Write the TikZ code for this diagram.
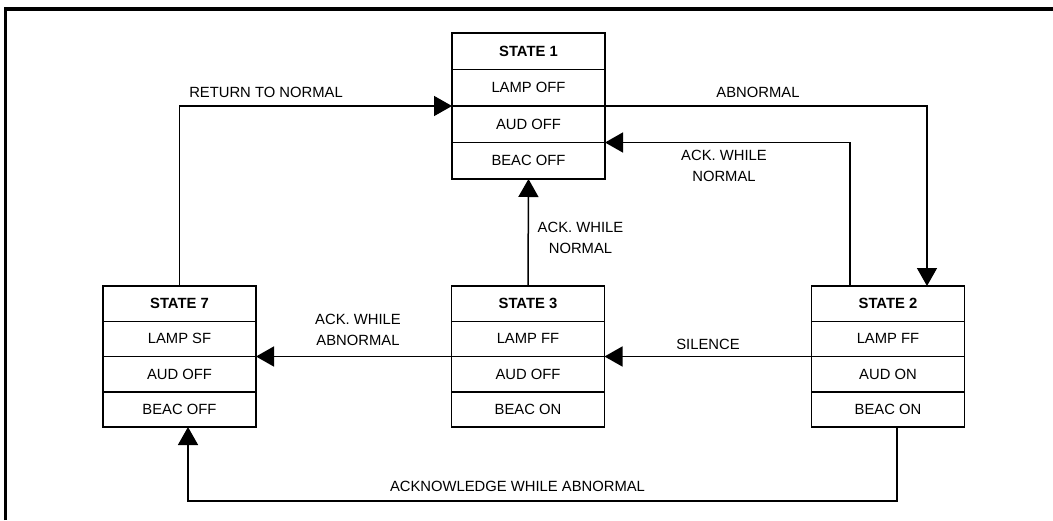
\documentclass[tikz,border=0pt]{standalone}
\usepackage{fontspec}
\setmainfont{Liberation Sans}
\usetikzlibrary{arrows.meta,positioning}
\tikzstyle{arrow} = [line width=1.5pt,-{Triangle[length=18pt,width=20pt]}]
\tikzstyle{cell} = [draw, line width=1.5pt, outer sep=0pt, inner sep=0pt, minimum width=153pt, minimum height=\rowh]
\tikzstyle{lbl} = [inner sep=0pt, align=center]

\begin{document}
\begin{tikzpicture}[x=1pt,y=-1pt,font=\fontsize{14.8}{20.5}\selectfont]
                        \useasboundingbox (0,0) rectangle (1053,520);
                        \draw[line width=3.5pt] (5.5,520) -- (5.5,9) -- (1053,9);
                        % state 1
                        \def \rowh {36.5pt}
                        \node[cell, anchor=north] (s1t) at (528.5,33) {\bfseries STATE 1};
                        \node[cell, below=0pt of s1t] (s1a) {LAMP OFF};
                        \node[cell, below=0pt of s1a] (s1b) {AUD OFF};
                        \node[cell, below=0pt of s1b] (s1c) {BEAC OFF};
                        % states 7, 3, 2
                        \def \rowh {35.25pt}
                        \node[cell, anchor=north] (s7t) at (179.5,286) {\bfseries STATE 7};
                        \node[cell, below=0pt of s7t] (s7a) {LAMP SF};
                        \node[cell, below=0pt of s7a] (s7b) {AUD OFF};
                        \node[cell, below=0pt of s7b] (s7c) {BEAC OFF};
                        \node[cell, anchor=north] (s3t) at (528,286) {\bfseries STATE 3};
                        \node[cell, below=0pt of s3t] (s3a) {LAMP FF};
                        \node[cell, below=0pt of s3a] (s3b) {AUD OFF};
                        \node[cell, below=0pt of s3b] (s3c) {BEAC ON};
                        \node[cell, anchor=north] (s2t) at (888,286) {\bfseries STATE 2};
                        \node[cell, below=0pt of s2t] (s2a) {LAMP FF};
                        \node[cell, below=0pt of s2a] (s2b) {AUD ON};
                        \node[cell, below=0pt of s2b] (s2c) {BEAC ON};
                        % transitions
                        \draw[arrow] (s7t.north) |- (s1b.north west);
                        \draw[arrow] (s1b.north east) -| ([xshift=39pt]s2t.north);
                        \draw[arrow] ([xshift=-38pt]s2t.north) |- (s1c.north east);
                        \draw[arrow] (s3t.north) -- (s1c.south);
                        \draw[arrow] (s2b.north west) -- (s3b.north east);
                        \draw[arrow] (s3b.north west) -- (s7b.north east);
                        \draw[arrow] ([xshift=9pt]s2c.south) -- ++(0,74) -| ([xshift=8.5pt]s7c.south);
                        % labels
                        \node[lbl] (lret) at (266,92.7) {RETURN TO NORMAL};
                        \node[lbl] (labn) at (758,92.7) {ABNORMAL};
                        \node[lbl] (lackn1) at (724,165.9) {ACK. WHILE\\NORMAL};
                        \node[lbl] (lackn3) at (580.5,237.9) {ACK. WHILE\\NORMAL};
                        \node[lbl] (lsil) at (708,344.5) {SILENCE};
                        \node[lbl] (lacka) at (358,330) {ACK. WHILE\\ABNORMAL};
                        \node[lbl] (lackall) at (517.5,486.7) {ACKNOWLEDGE WHILE ABNORMAL};
                    \end{tikzpicture}
\end{document}
